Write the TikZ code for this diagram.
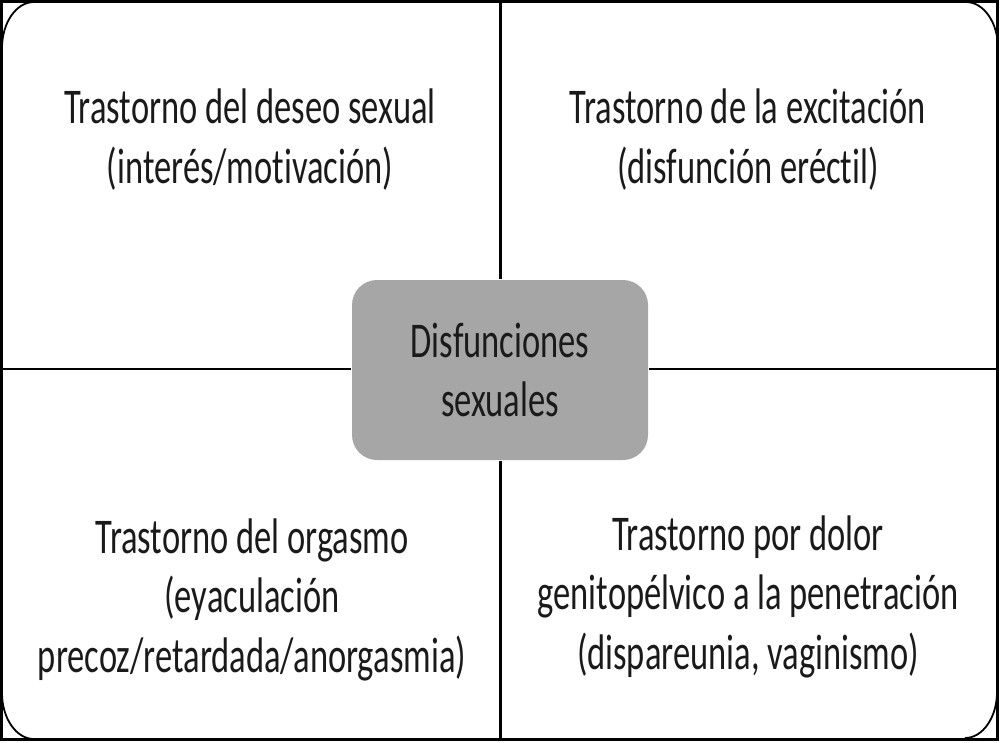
\documentclass[tikz,border=0pt]{standalone}
\usepackage{fontspec}
\setmainfont{Carlito}[FakeStretch=0.69, Ligatures=NoCommon]
\usetikzlibrary{positioning}
\definecolor{boxgray}{HTML}{A6A6A6}
\definecolor{inkgray}{HTML}{1A1A1A}
\tikzset{
    quadlabel/.style = {align=center, inner sep=0pt, anchor=base, text=inkgray,
                        font=\fontsize{50}{59.5}\selectfont},
    hubbox/.style = {fill=boxgray, rounded corners=25pt, minimum width=296pt,
                     minimum height=180pt, inner sep=0pt, text=inkgray,
                     align=center, font=\fontsize{50}{59}\selectfont}
}

\begin{document}
\begin{tikzpicture}[x=1pt, y=-1pt]
    \useasboundingbox (0,0) rectangle (1000,742);
    \begin{scope}[line width=1.8pt]
        \draw[line width=3pt] (1.5,1.5) rectangle (997,739);
        \draw (2,48) arc[start angle=180, end angle=90, x radius=32pt, y radius=46pt];
        \draw (966,2) arc[start angle=90, end angle=0, x radius=32pt, y radius=46pt];
        \draw (997,692) arc[start angle=0, end angle=-90, x radius=32pt, y radius=46pt];
        \draw (34,739) arc[start angle=-90, end angle=-180, x radius=32pt, y radius=46pt];
        \node[hubbox] (hub) at (500,370) {Disfunciones\\sexuales};
        \coordinate (top) at (500.5,1.5);
        \coordinate (bottom) at (500.5,739);
        \coordinate (left) at (1.5,369);
        \coordinate (right) at (997,369);
        \draw[line width=2.5pt] (top) -- (top |- hub.north);
        \draw[line width=2.5pt] (bottom) -- (bottom |- hub.south);
        \draw[line width=2.5pt] (left) -- (left -| hub.west);
        \draw[line width=2.5pt] (right) -- (right -| hub.east);
        % base anchor sits on the last line
        \node[quadlabel] (desire) at (250,183) {Trastorno del deseo sexual\\(interés/motivación)};
        \node[quadlabel] (arousal) at (748,183) {Trastorno de la excitación\\(disfunción eréctil)};
        \node[quadlabel] (orgasm) at (252,672) {Trastorno del orgasmo\\(eyaculación\\precoz/retardada/anorgasmia)};
        \node[quadlabel] (pain) at (748,669) {Trastorno por dolor\\genitopélvico a la penetración\\(dispareunia, vaginismo)};
    \end{scope}
\end{tikzpicture}
\end{document}
